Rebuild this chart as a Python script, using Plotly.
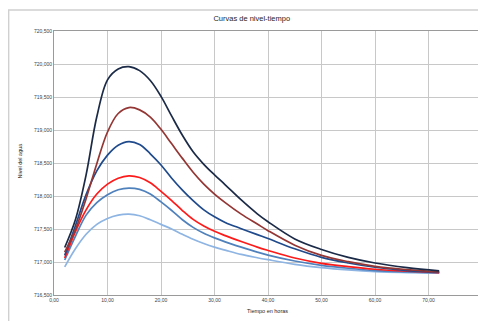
import plotly.graph_objects as go

tiempo = [2, 4, 6, 8, 10, 12, 14, 16, 18, 20, 22, 24, 26, 28, 30, 32, 35, 38, 40, 45, 50, 55, 60, 66, 72]

serie_1 = [717.220, 717.640, 718.320, 719.200, 719.760, 719.925, 719.960, 719.900, 719.750, 719.510,
           719.210, 718.920, 718.670, 718.480, 718.320, 718.170, 717.940, 717.730, 717.610, 717.350,
           717.190, 717.070, 716.985, 716.915, 716.865]
serie_2 = [717.150, 717.490, 717.960, 718.490, 718.970, 719.250, 719.340, 719.305, 719.195, 719.010,
           718.790, 718.570, 718.360, 718.180, 718.030, 717.900, 717.725, 717.575, 717.475, 717.255,
           717.100, 717.005, 716.935, 716.885, 716.850]
serie_3 = [717.100, 717.550, 718.020, 718.380, 718.620, 718.770, 718.825, 718.780, 718.640, 718.470,
           718.270, 718.090, 717.930, 717.790, 717.685, 717.600, 717.505, 717.415, 717.355, 717.200,
           717.070, 716.985, 716.920, 716.870, 716.845]
serie_4 = [717.060, 717.460, 717.790, 718.030, 718.180, 718.270, 718.305, 718.280, 718.200, 718.070,
           717.930, 717.780, 717.645, 717.545, 717.465, 717.400, 717.310, 717.225, 717.175, 717.060,
           716.980, 716.930, 716.890, 716.860, 716.840]
serie_5 = [717.030, 717.390, 717.710, 717.900, 718.020, 718.095, 718.120, 718.100, 718.030, 717.910,
           717.780, 717.640, 717.525, 717.435, 717.365, 717.305, 717.225, 717.150, 717.105, 717.015,
           716.950, 716.905, 716.870, 716.850, 716.835]
serie_6 = [716.925, 717.200, 717.420, 717.570, 717.660, 717.710, 717.725, 717.700, 717.640, 717.570,
           717.500, 717.420, 717.345, 717.280, 717.225, 717.180, 717.115, 717.065, 717.035, 716.965,
           716.915, 716.880, 716.855, 716.840, 716.830]

series = [serie_6, serie_5, serie_4, serie_3, serie_2, serie_1]
colores = ["#8DB4E2", "#4F81BD", "#FF1A1A", "#1F4A8C", "#943634", "#1B2A47"]

x_ticks = [0, 10, 20, 30, 40, 50, 60, 70, 80]
y_ticks = [716.5, 717.0, 717.5, 718.0, 718.5, 719.0, 719.5, 720.0, 720.5]

fig = go.Figure()
for vals, col in zip(series, colores):
    fig.add_trace(go.Scatter(x=tiempo, y=vals, mode="lines",
                             line=dict(color=col, width=1.7, shape="spline", smoothing=1.0),
                             showlegend=False, hoverinfo="skip"))

font_family = "Liberation Sans, Arial, sans-serif"
# page has an 8px body margin: figure sized/margined so the plot area lands where the reference has it
fig.update_layout(
    width=478, height=313,
    margin=dict(l=46, r=4, t=23, b=26),
    paper_bgcolor="white", plot_bgcolor="white",
    separators=",.",
    title=dict(text="Curvas de nivel-tiempo", x=0.51, xanchor="center", y=0.968, yanchor="middle",
               font=dict(family=font_family, size=7.5, color="#262626")),
    xaxis=dict(range=[0, 80], tickvals=x_ticks, tickformat=".2f", automargin=False,
               showgrid=True, gridcolor="#C8C8C8", gridwidth=1,
               showline=True, linecolor="#9A9A9A", linewidth=1, mirror=True,
               ticks="", zeroline=False,
               tickfont=dict(family=font_family, size=5, color="#404040")),
    yaxis=dict(range=[716.5, 720.5], tickvals=y_ticks, tickformat=".3f", automargin=False,
               showgrid=True, gridcolor="#C8C8C8", gridwidth=1,
               showline=True, linecolor="#9A9A9A", linewidth=1, mirror=True,
               ticks="", zeroline=False,
               tickfont=dict(family=font_family, size=5, color="#404040")),
    annotations=[
        dict(text="Tiempo en horas", xref="paper", yref="paper", x=0.498, y=-0.06,
             xanchor="center", yanchor="middle", showarrow=False,
             font=dict(family=font_family, size=5.5, color="#262626")),
        dict(text="Nivel del agua", xref="paper", yref="paper", x=-0.079, y=0.51,
             xanchor="center", yanchor="middle", showarrow=False, textangle=-90,
             font=dict(family=font_family, size=5.5, color="#262626")),
    ],
    shapes=[dict(type="rect", xref="paper", yref="paper",
                 x0=-0.106, x1=1.2, y0=-0.3, y1=1.08,
                 line=dict(color="#D0D0D0", width=1.5), fillcolor="rgba(0,0,0,0)", layer="below")],
)

fig.write_html("out.html")
